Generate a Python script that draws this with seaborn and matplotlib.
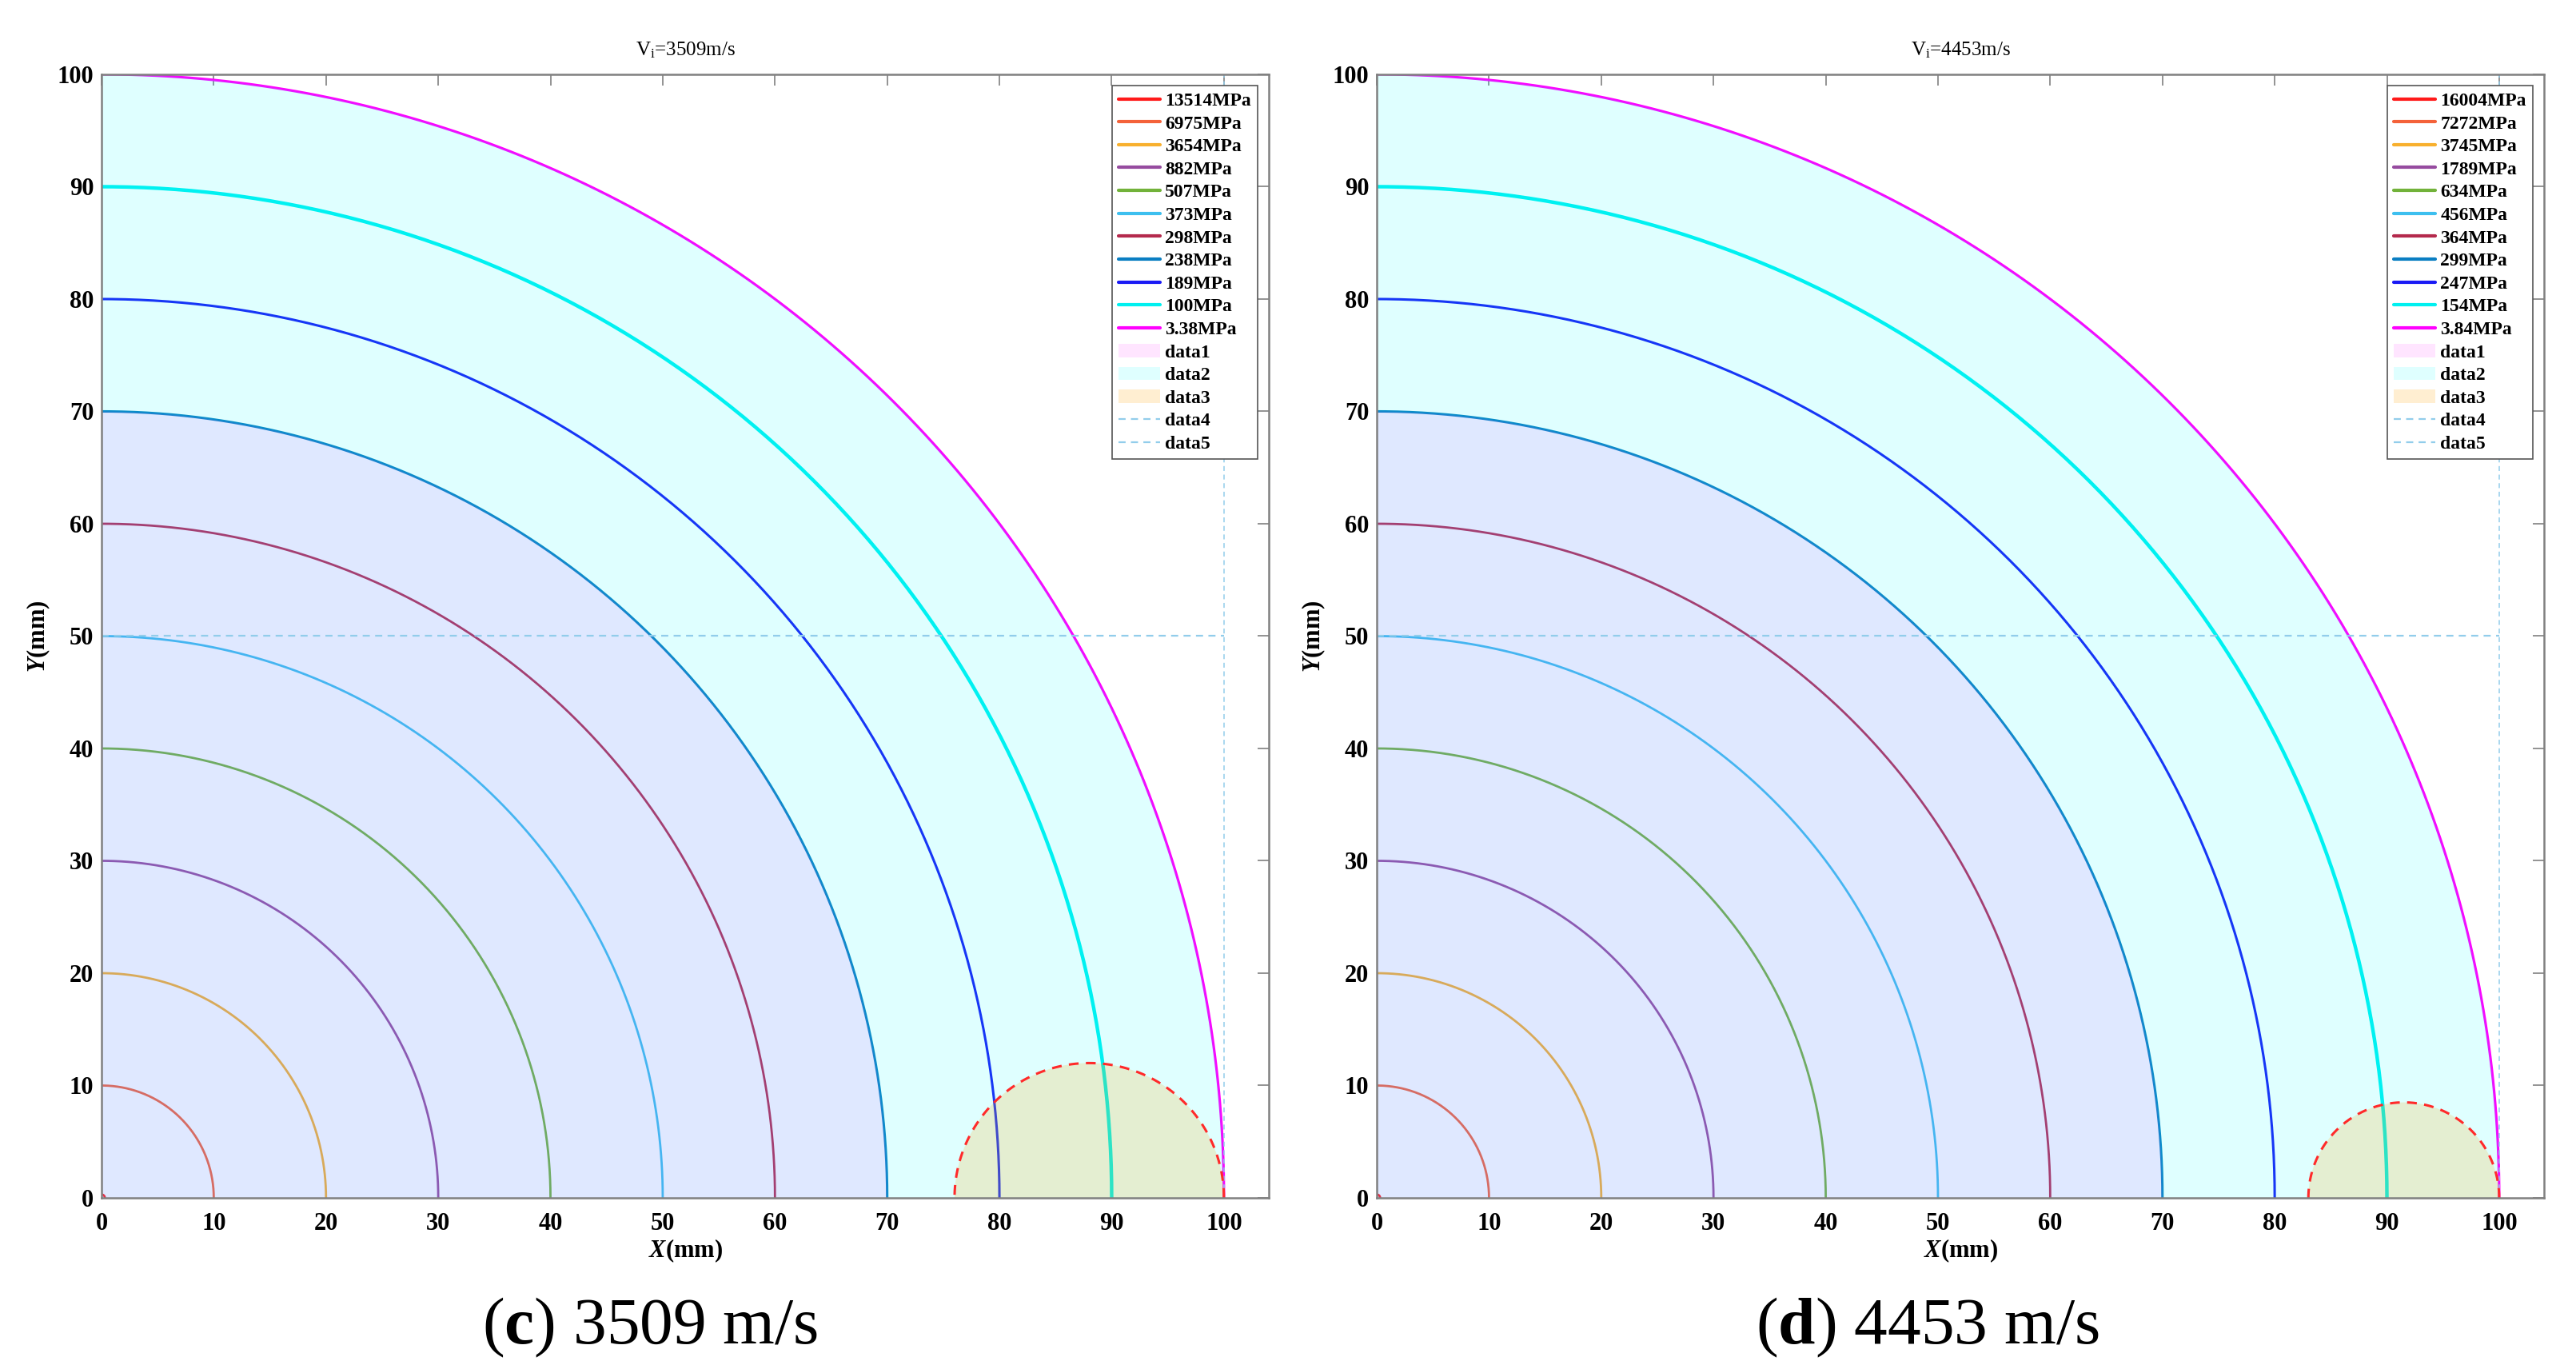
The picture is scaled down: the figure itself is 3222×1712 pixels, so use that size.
import numpy as np
import pandas as pd
import matplotlib
matplotlib.use('Agg')
import matplotlib.pyplot as plt
import seaborn as sns
from matplotlib.lines import Line2D
from matplotlib.patches import Patch

# contour radii (mm) and the stress level of each contour
radius_mm = [0.3, 10, 20, 30, 40, 50, 60, 70, 80, 90, 100]
stress_c = [13514, 6975, 3654, 882, 507, 373, 298, 238, 189, 100, 3.38]
stress_d = [16004, 7272, 3745, 1789, 634, 456, 364, 299, 247, 154, 3.84]
line_colors = ['#FF1A1A', '#F4623A', '#F8B02E', '#964B9F', '#72B23A', '#3DBFEF',
               '#B4294C', '#0A7EC2', '#1A1AF5', '#00F0F0', '#FF00FF']
line_widths = [2.0, 2.0, 2.0, 2.0, 2.0, 2.0, 2.0, 2.2, 2.2, 3.2, 2.3]

# shaded zones: data1 (pink) out to 70 mm, data2 (cyan) out to 100 mm
zone1_r = 70
zone2_r = 100
# crater semicircle (centre x, radius) for each velocity
crater_c = (88.0, 12.0)
crater_d = (91.5, 8.5)
# dashed guide lines
guide_y = 50
guide_x = 100

panels = [
    ('3509', 'c', stress_c, crater_c),
    ('4453', 'd', stress_d, crater_d),
]

sns.set_style('white', rc={'text.color': 'black', 'axes.labelcolor': 'black'})
plt.rcParams['font.family'] = ['Liberation Serif', 'DejaVu Serif']
plt.rcParams['mathtext.fontset'] = 'custom'
plt.rcParams['mathtext.rm'] = 'Liberation Serif'
plt.rcParams['mathtext.it'] = 'Liberation Serif:italic:bold'
plt.rcParams['mathtext.bf'] = 'Liberation Serif:bold'

fig = plt.figure(figsize=(32.23, 17.12), dpi=100)
axes_pos = [[0.0394, 0.125, 0.4530, 0.8207], [0.5343, 0.125, 0.4530, 0.8207]]
caption_x = [0.2524, 0.748]

theta = np.linspace(0, np.pi / 2, 300)
phi = np.linspace(0, np.pi, 300)
grey = '#808080'

for k, (vel, letter, stress, crater) in enumerate(panels):
    ax = fig.add_axes(axes_pos[k])

    handles = []
    for r, s, c, lw in zip(radius_mm, stress, line_colors, line_widths):
        df = pd.DataFrame({'x': r * np.cos(theta), 'y': r * np.sin(theta)})
        sns.lineplot(data=df, x='x', y='y', sort=False, estimator=None, ax=ax,
                     color=c, lw=lw, zorder=2)
        handles.append(Line2D([], [], color=c, lw=3, label=f'{s:g}MPa'))

    # shaded areas (drawn over the contours, like the original)
    ax.fill(np.r_[0, zone1_r * np.cos(theta)], np.r_[0, zone1_r * np.sin(theta)],
            color='#FF00FF', alpha=0.10, lw=0, zorder=3)
    ax.fill(np.r_[0, zone2_r * np.cos(theta)], np.r_[0, zone2_r * np.sin(theta)],
            color='#00FFFF', alpha=0.125, lw=0, zorder=3)
    cx, cr = crater
    ax.fill(cx + cr * np.cos(phi), cr * np.sin(phi), color='#FFA500', alpha=0.18, lw=0, zorder=3)
    handles.append(Patch(facecolor='#FF00FF', alpha=0.10, edgecolor='none', label='data1'))
    handles.append(Patch(facecolor='#00FFFF', alpha=0.125, edgecolor='none', label='data2'))
    handles.append(Patch(facecolor='#FFA500', alpha=0.18, edgecolor='none', label='data3'))

    guide_col = '#92CDEB'
    ax.plot([0, guide_x], [guide_y, guide_y], color=guide_col, lw=1.6, ls=(0, (4, 3)), zorder=4)
    ax.plot([guide_x, guide_x], [0, 100], color=guide_col, lw=1.1, ls=(0, (4, 3)), zorder=4)
    handles.append(Line2D([], [], color=guide_col, lw=1.6, ls=(0, (4, 3)), label='data4'))
    handles.append(Line2D([], [], color=guide_col, lw=1.6, ls=(0, (4, 3)), label='data5'))

    sns.lineplot(x=cx + cr * np.cos(phi), y=cr * np.sin(phi), sort=False, estimator=None,
                 ax=ax, color='#FF2A2A', lw=2.2, ls=(0, (4, 3)), zorder=5)

    ax.set_xlim(0, 104)
    ax.set_ylim(0, 100)
    ax.set_xticks(np.arange(0, 101, 10))
    ax.set_yticks(np.arange(0, 101, 10))
    ax.tick_params(axis='both', direction='in', length=10, width=1.2, color=grey,
                   labelcolor='black', top=True, right=True, labelsize=22)
    ax.tick_params(axis='x', pad=13)
    ax.tick_params(axis='y', pad=7)
    for lab in ax.get_xticklabels() + ax.get_yticklabels():
        lab.set_fontweight('bold')
    for sp in ax.spines.values():
        sp.set_color(grey)
        sp.set_linewidth(1.8)
        sp.set_zorder(6)

    ax.set_xlabel(r'$X$(mm)', fontsize=22, fontweight='bold', labelpad=2)
    ax.set_ylabel(r'$Y$(mm)', fontsize=22, fontweight='bold', labelpad=5)
    ax.text(0.5, 1.017, r'V$_\mathrm{i}$=' + vel + 'm/s', transform=ax.transAxes,
            ha='center', va='baseline', fontsize=18)

    leg = ax.legend(handles=handles, loc='upper right',
                    prop={'weight': 'bold', 'size': 17}, frameon=True, fancybox=False,
                    framealpha=1, edgecolor='#555555', labelspacing=0.3,
                    handlelength=2.2, handletextpad=0.25, borderpad=0.35,
                    borderaxespad=0.6)
    leg.get_frame().set_linewidth(1.2)
    leg.set_zorder(7)

    fig.text(caption_x[k], 1 - 1680 / 1712, r'($\mathbf{' + letter + r'}$) ' + vel + ' m/s',
             ha='center', va='baseline', fontsize=60, color='black')

fig.savefig('out.png', dpi=100)
